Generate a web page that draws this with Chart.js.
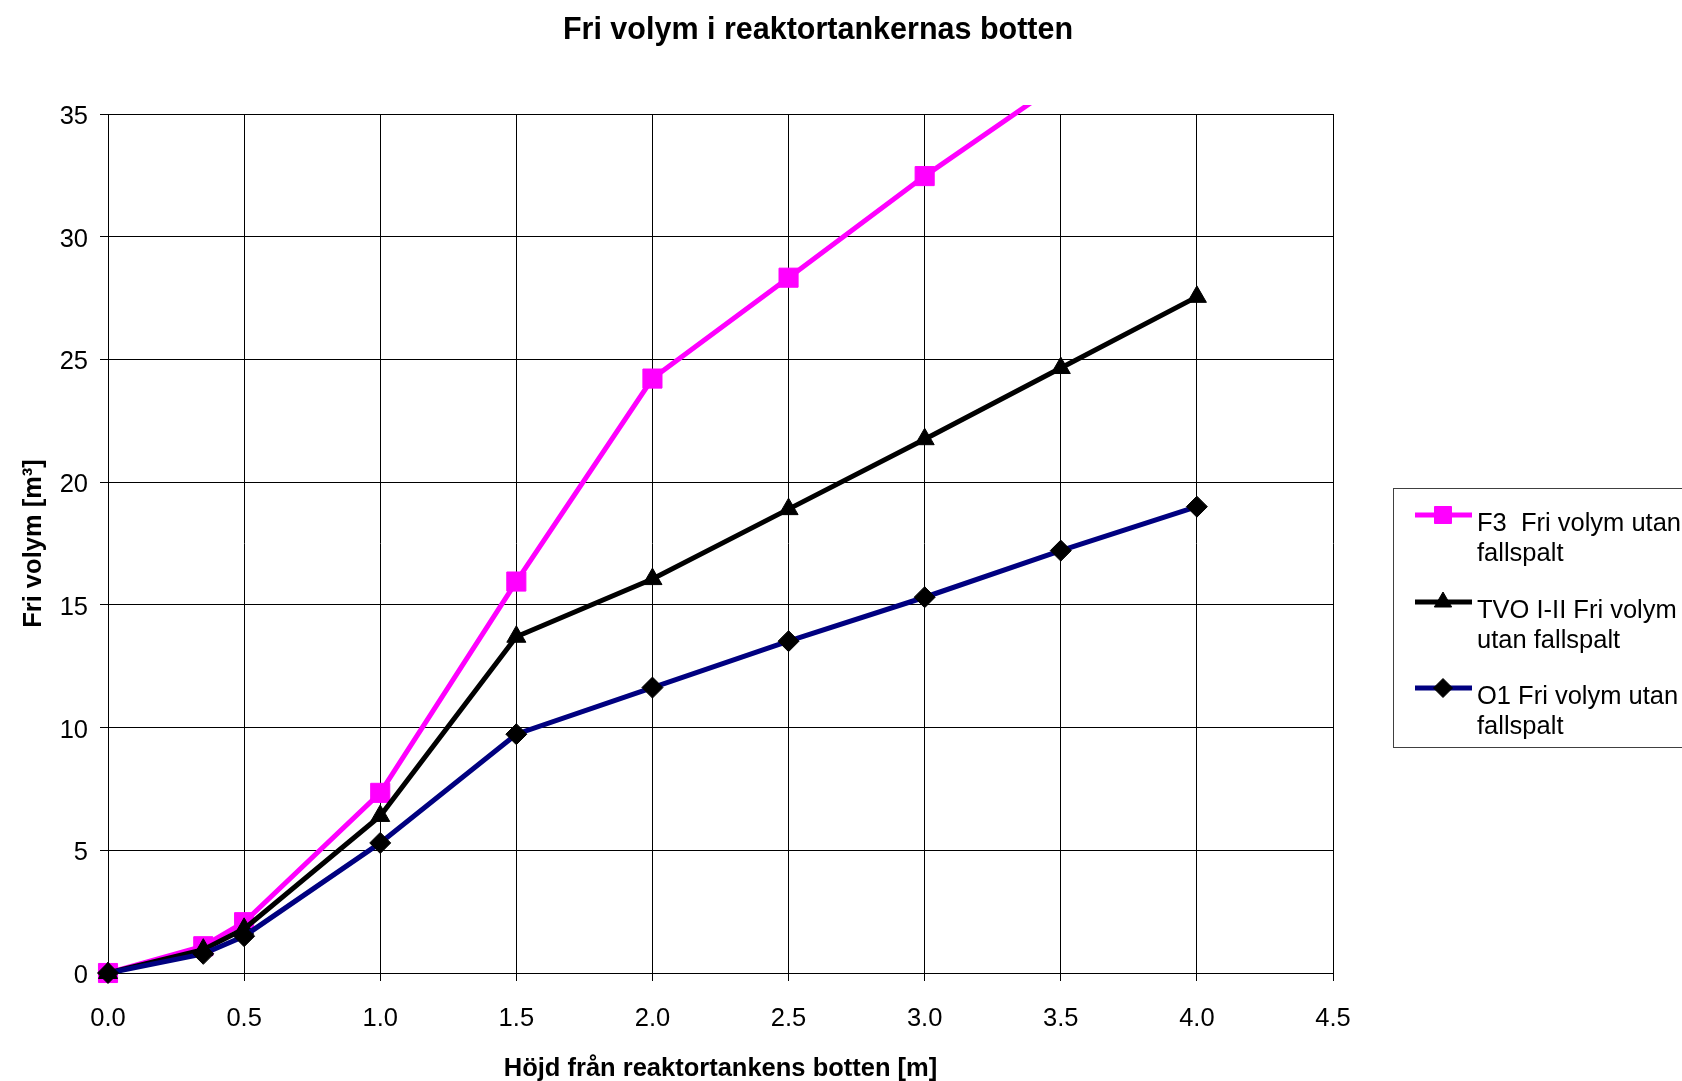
<!DOCTYPE html>
<html>
<head>
<meta charset="utf-8">
<title>Fri volym i reaktortankernas botten</title>
<script src="https://cdn.jsdelivr.net/npm/chart.js@4.4.1/dist/chart.umd.min.js"></script>
<style>
  html, body { margin: 0; padding: 0; background: #fff; }
  #wrap { width: 1682px; height: 1081px; }
</style>
</head>
<body>
<div id="wrap"><canvas id="myGraph" width="1682" height="1081"></canvas></div>
<script>
// height above the vessel bottom [m]
const heights = [0, 0.35, 0.5, 1.0, 1.5, 2.0, 2.5, 3.0, 3.5, 4.0];
// free volume [m3] per reactor
const f3Volume = [0, 1.09, 2.07, 7.34, 15.95, 24.22, 28.33, 32.47, 36.3, null];
const tvoVolume = [0, 0.95, 1.8, 6.4, 13.7, 16.05, 18.9, 21.75, 24.65, 27.55];
const o1Volume = [0, 0.78, 1.5, 5.3, 9.73, 11.63, 13.52, 15.31, 17.21, 19.0];

const seriesNames = [
  ['F3  Fri volym utan', 'fallspalt'],
  ['TVO I-II Fri volym', 'utan fallspalt'],
  ['O1 Fri volym utan', 'fallspalt']
];
const chartTitle = 'Fri volym i reaktortankernas botten';
const xTitle = 'Höjd från reaktortankens botten [m]';
const yTitle = 'Fri volym [m³]';

const FONT = "'Liberation Sans', Arial, sans-serif";
Chart.defaults.font.family = FONT;
Chart.defaults.font.size = 25.5;
Chart.defaults.color = '#000';

function toPoints(values) {
  return heights.map((h, i) => ({ x: h, y: values[i] }));
}

const clipBox = { left: 20, top: 9, right: 20, bottom: 20 };

const datasets = [
  {
    label: seriesNames[0].join(' '),
    data: toPoints(f3Volume),
    showLine: true,
    borderColor: '#ff00ff',
    backgroundColor: '#ff00ff',
    borderWidth: 5,
    pointStyle: 'rect',
    pointRadius: 13.5,
    pointBorderWidth: 1,
    pointBorderColor: '#ff00ff',
    pointBackgroundColor: '#ff00ff',
    clip: clipBox,
    order: 2
  },
  {
    label: seriesNames[1].join(' '),
    data: toPoints(tvoVolume),
    showLine: true,
    borderColor: '#000',
    backgroundColor: '#000',
    borderWidth: 5,
    pointStyle: 'triangle',
    pointRadius: 11,
    pointBorderWidth: 1,
    pointBorderColor: '#000',
    pointBackgroundColor: '#000',
    clip: clipBox,
    order: 1
  },
  {
    label: seriesNames[2].join(' '),
    data: toPoints(o1Volume),
    showLine: true,
    borderColor: '#000080',
    backgroundColor: '#000',
    borderWidth: 5,
    pointStyle: 'rectRot',
    pointRadius: 10.5,
    pointBorderWidth: 1,
    pointBorderColor: '#000',
    pointBackgroundColor: '#000',
    clip: clipBox,
    order: 0
  }
];

// title and boxed legend drawn on the canvas
const decor = {
  id: 'decor',
  afterDraw(chart) {
    const ctx = chart.ctx;
    ctx.save();
    ctx.fillStyle = '#000';
    ctx.font = 'bold 30.5px ' + FONT;
    ctx.textAlign = 'center';
    ctx.textBaseline = 'middle';
    ctx.fillText(chartTitle, 818, 31);

    ctx.strokeStyle = '#404040';
    ctx.lineWidth = 1;
    ctx.strokeRect(1393.5, 488.5, 300, 259);

    const rowY = [515, 602, 688];
    const markR = [12, 10, 9.5];
    ctx.font = '25.5px ' + FONT;
    ctx.textAlign = 'left';
    ctx.textBaseline = 'alphabetic';
    datasets.forEach((ds, i) => {
      const y = rowY[i];
      ctx.strokeStyle = ds.borderColor;
      ctx.lineWidth = 5;
      ctx.beginPath();
      ctx.moveTo(1415, y);
      ctx.lineTo(1472, y);
      ctx.stroke();
      ctx.fillStyle = ds.pointBackgroundColor;
      ctx.strokeStyle = ds.pointBorderColor;
      ctx.lineWidth = 1;
      Chart.helpers.drawPoint(ctx, {
        pointStyle: ds.pointStyle, radius: markR[i], rotation: 0, borderWidth: 1
      }, 1443, y);
      ctx.fillStyle = '#000';
      ctx.fillText(seriesNames[i][0], 1477, y + 16);
      ctx.fillText(seriesNames[i][1], 1477, y + 46);
    });
    ctx.restore();
  }
};

new Chart(document.getElementById('myGraph').getContext('2d'), {
  type: 'scatter',
  data: { datasets: datasets },
  options: {
    responsive: false,
    animation: false,
    events: [],
    layout: { padding: { top: 114, right: 349, left: 0, bottom: 0 } },
    plugins: {
      legend: { display: false },
      tooltip: { enabled: false },
      title: { display: false }
    },
    scales: {
      x: {
        type: 'linear',
        min: 0,
        max: 4.5,
        afterFit(scale) { scale.height = 108; },
        ticks: {
          stepSize: 0.5,
          padding: 23,
          maxRotation: 0,
          callback: v => Number(v).toFixed(1)
        },
        grid: { color: '#000', lineWidth: 1, tickLength: 8 },
        border: { color: '#000', width: 1 },
        title: {
          display: true,
          text: xTitle,
          font: { size: 25.5, weight: 'bold' },
          padding: { top: 0, bottom: -3 }
        }
      },
      y: {
        min: 0,
        max: 35,
        afterFit(scale) { scale.width = 108; },
        ticks: { stepSize: 5, padding: 12, labelOffset: 3 },
        grid: { color: '#000', lineWidth: 1, tickLength: 8 },
        border: { color: '#000', width: 1 },
        title: {
          display: true,
          text: yTitle,
          font: { size: 25.5, weight: 'bold' },
          padding: { top: 19, bottom: 0 }
        }
      }
    }
  },
  plugins: [decor]
});
</script>
</body>
</html>
